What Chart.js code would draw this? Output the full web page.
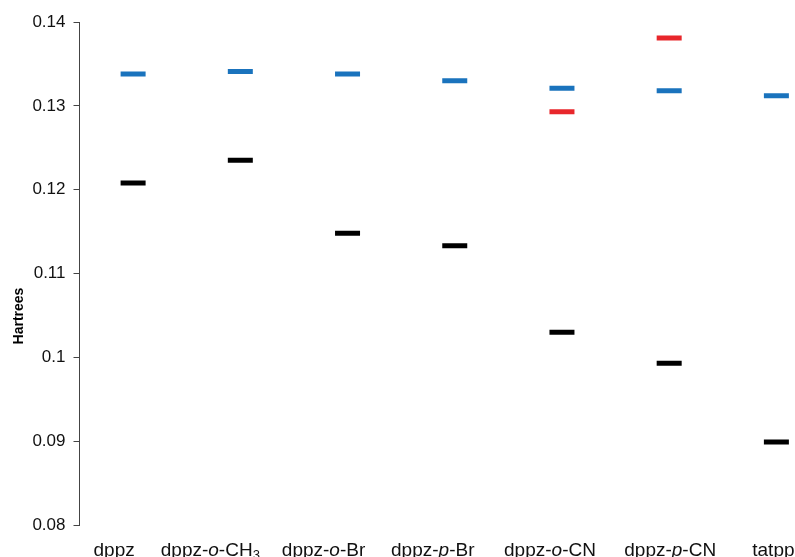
<!DOCTYPE html>
<html>
<head>
<meta charset="utf-8">
<script src="https://cdn.jsdelivr.net/npm/chart.js@4"></script>
<style>
  html, body { margin: 0; padding: 0; background: #fff; overflow: hidden; width: 795px; height: 557px; }
  #wrap { width: 830px; height: 557px; }
</style>
</head>
<body>
<div id="wrap"><canvas id="c" width="830" height="557"></canvas></div>
<script>
// Complexes along the x axis
const categories = ['dppz', 'dppz-o-CH3', 'dppz-o-Br', 'dppz-p-Br', 'dppz-o-CN', 'dppz-p-CN', 'tatpp'];

// Energy levels (Hartrees) per complex
const blueLevels  = [0.1338, 0.1341, 0.1338, 0.1330, 0.1321, 0.1318, 0.1312];
const redLevels   = [null, null, null, null, 0.1293, 0.1381, null];
const blackLevels = [0.1208, 0.1235, 0.1148, 0.1133, 0.1030, 0.0993, 0.0899];

// Y axis ticks
const yTickValues = [0.08, 0.09, 0.10, 0.11, 0.12, 0.13, 0.14];
const yTickLabels = ['0.08', '0.09', '0.1', '0.11', '0.12', '0.13', '0.14'];
const yAxisTitle = 'Hartrees';

const FONT = '"Liberation Sans", Arial, Helvetica, sans-serif';

// Split a compound name into styled runs: lone "o"/"p" locants in italics,
// trailing digits as subscripts.
function richRuns(name) {
  const runs = [];
  name.split('-').forEach((part, i) => {
    if (i > 0) runs.push({ text: '-' });
    if (part === 'o' || part === 'p') { runs.push({ text: part, italic: true }); return; }
    const m = part.match(/^(.*?[A-Za-z])(\d+)$/);
    if (m) { runs.push({ text: m[1] }); runs.push({ text: m[2], sub: true }); }
    else runs.push({ text: part });
  });
  return runs;
}

function runFont(r) {
  if (r.sub) return '13px ' + FONT;
  return (r.italic ? 'italic ' : '') + '19px ' + FONT;
}

// Category names drawn as rich text under each column (hand-nudged placement)
const labelPlugin = {
  id: 'richLabels',
  afterDraw(chart, args, opts) {
    const ctx = chart.ctx;
    const xs = chart.scales.x;
    const nudge = opts.nudge || [];
    ctx.save();
    ctx.fillStyle = '#111';
    ctx.textBaseline = 'alphabetic';
    ctx.textAlign = 'left';
    const baseline = 556;
    categories.forEach((name, i) => {
      const runs = richRuns(name);
      let total = 0;
      runs.forEach(r => { ctx.font = runFont(r); r.w = ctx.measureText(r.text).width; total += r.w; });
      let x = xs.getPixelForValue(i) + (nudge[i] || 0) - total / 2;
      runs.forEach(r => {
        ctx.font = runFont(r);
        ctx.fillText(r.text, x, baseline + (r.sub ? 3 : 0));
        x += r.w;
      });
    });

    // rotated y-axis title
    ctx.translate(19.5, 316);
    ctx.rotate(-Math.PI / 2);
    ctx.font = 'bold 14px ' + FONT;
    ctx.textAlign = 'center';
    ctx.textBaseline = 'middle';
    ctx.fillStyle = '#000';
    ctx.fillText(yAxisTitle, 0, 0);
    ctx.restore();
  }
};

function levelSet(values, color) {
  return {
    data: values,
    showLine: false,
    pointStyle: 'line',
    pointRadius: 12.5,
    pointHoverRadius: 12.5,
    pointBorderWidth: 5,
    pointHoverBorderWidth: 5,
    borderColor: color,
    pointBorderColor: color,
    backgroundColor: color
  };
}

new Chart(document.getElementById('c'), {
  type: 'line',
  data: {
    labels: categories,
    datasets: [
      levelSet(blueLevels, '#1a73bd'),
      levelSet(redLevels, '#e8262b'),
      levelSet(blackLevels, '#000000')
    ]
  },
  options: {
    responsive: false,
    animation: false,
    layout: { autoPadding: false, padding: { top: 22, left: 0, right: 0, bottom: 0 } },
    plugins: {
      legend: { display: false },
      tooltip: { enabled: false },
      richLabels: { nudge: [-19, -30, -24, -22, -12, 1, -3] }
    },
    scales: {
      x: {
        type: 'category',
        offset: true,
        grid: { display: false },
        border: { display: false },
        ticks: { display: false },
        afterFit: s => { s.height = 32; }
      },
      y: {
        min: 0.08,
        max: 0.14,
        afterBuildTicks: s => { s.ticks = yTickValues.map(v => ({ value: v })); },
        ticks: {
          callback: (v, i) => yTickLabels[i],
          font: { family: FONT, size: 17 },
          color: '#111',
          padding: 8
        },
        grid: { drawOnChartArea: false, drawTicks: true, tickLength: 6, color: '#444' },
        border: { color: '#444', width: 1 },
        afterFit: s => { s.width = 79.5; }
      }
    }
  },
  plugins: [labelPlugin]
});
</script>
</body>
</html>
